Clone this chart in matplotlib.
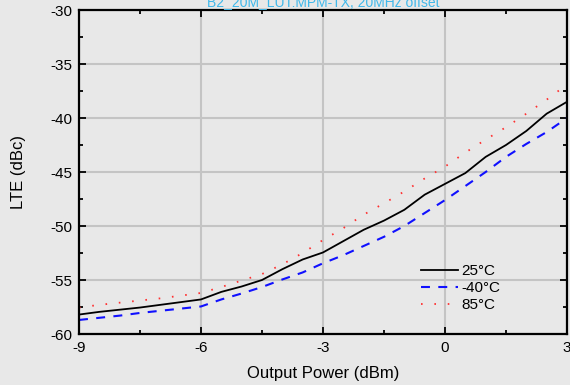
import matplotlib
matplotlib.use("Agg")
from matplotlib import pyplot as plt
from matplotlib.ticker import MultipleLocator

# x axis: output power (dBm)
power = [-9, -8.5, -8, -7.5, -7, -6.5, -6, -5.5, -5, -4.5, -4, -3.5, -3,
         -2.5, -2, -1.5, -1, -0.5, 0, 0.5, 1, 1.5, 2, 2.5, 3]

# LTE (dBc) per temperature
lte_25 = [-58.2, -57.95, -57.75, -57.55, -57.3, -57.05, -56.8, -56.1, -55.6,
          -55.0, -54.0, -53.1, -52.45, -51.4, -50.35, -49.5, -48.5, -47.1,
          -46.1, -45.1, -43.6, -42.5, -41.2, -39.6, -38.5]
lte_m40 = [-58.7, -58.5, -58.3, -58.05, -57.85, -57.65, -57.45, -56.8, -56.25,
           -55.65, -54.95, -54.3, -53.45, -52.7, -51.85, -51.0, -50.0, -48.8,
           -47.6, -46.3, -45.0, -43.6, -42.4, -41.3, -40.0]
lte_85 = [-57.55, -57.3, -57.1, -56.9, -56.7, -56.45, -56.2, -55.65, -55.05,
          -54.45, -53.55, -52.5, -51.3, -50.2, -48.95, -47.9, -46.8, -45.6,
          -44.5, -43.2, -42.0, -40.85, -39.6, -38.3, -36.9]

labels = ["25°C", "-40°C", "85°C"]
title = "B2_20M_LUT:MPM-TX, 20MHz offset"

plt.rcParams['font.family'] = ['Liberation Sans', 'DejaVu Sans']
plt.rcParams['axes.unicode_minus'] = False   # plain hyphen like the original
bg = "#e8e8e8"

fig = plt.figure(figsize=(5.7, 3.85), dpi=100, facecolor=bg)
ax = fig.add_axes([79/570, 1-334/385, 488/570, 324/385], facecolor=bg)

ax.plot(power, lte_25, color="black", lw=1.3, label=labels[0])
ax.plot(power, lte_m40, color="#1010ff", lw=1.5, dashes=(4.3, 4), label=labels[1])
ax.plot(power, lte_85, color="#ff3030", lw=1.3, dashes=(0.9, 6.5), label=labels[2])

ax.set_xlim(-9, 3)
ax.set_ylim(-60, -30)
ax.xaxis.set_major_locator(MultipleLocator(3))
ax.xaxis.set_minor_locator(MultipleLocator(1.5))
ax.yaxis.set_major_locator(MultipleLocator(5))
ax.yaxis.set_minor_locator(MultipleLocator(2.5))
ax.tick_params(which="both", direction="in", top=True, right=True,
               labelsize=11, width=1.3, pad=5)
ax.tick_params(which="major", length=5)
ax.tick_params(which="minor", length=3)
ax.grid(True, which="major", color="#c4c4c4", lw=1.5)
ax.set_axisbelow(True)
for s in ax.spines.values():
    s.set_linewidth(1.6)

ax.set_xlabel("Output Power (dBm)", fontsize=12, labelpad=8)
ax.set_ylabel("LTE (dBc)", fontsize=12, labelpad=17)

ax.legend(loc="upper left", bbox_to_anchor=((421-79)/488, 1-(264-10)/324),
          frameon=False, fontsize=11, handlelength=2.4, handletextpad=0.25,
          labelspacing=0.2, borderpad=0, borderaxespad=0)

fig.text((79+567)/2/570, 1-6.5/385, title, color="#40b8ea", fontsize=10,
         ha="center", va="baseline")

fig.savefig("out.png", facecolor=bg)
